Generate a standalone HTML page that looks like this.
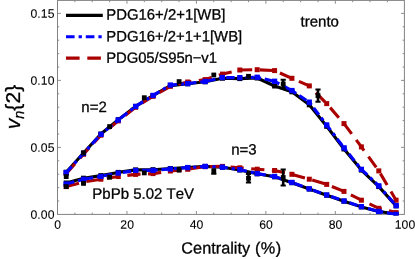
<!DOCTYPE html>
<html><head><meta charset="utf-8"><title>chart</title>
<style>
html,body{margin:0;padding:0;background:#fff;}
body{width:415px;height:259px;position:relative;overflow:hidden;font-family:"Liberation Sans",sans-serif;color:#000;}
.t{position:absolute;white-space:nowrap;font-kerning:none;-webkit-text-stroke:0.3px #000;}
</style></head><body>
<svg width="415" height="259" viewBox="0 0 415 259" style="position:absolute;left:0;top:0">
<rect x="57.50" y="0.40" width="346.90" height="214.00" fill="none" stroke="#828282" stroke-width="1.0"/>
<path d="M74.86 214.40 v-1.8 M74.86 0.40 v1.8 M92.23 214.40 v-1.8 M92.23 0.40 v1.8 M109.59 214.40 v-1.8 M109.59 0.40 v1.8 M126.96 214.40 v-3.4 M126.96 0.40 v3.4 M144.32 214.40 v-1.8 M144.32 0.40 v1.8 M161.69 214.40 v-1.8 M161.69 0.40 v1.8 M179.06 214.40 v-1.8 M179.06 0.40 v1.8 M196.42 214.40 v-3.4 M196.42 0.40 v3.4 M213.78 214.40 v-1.8 M213.78 0.40 v1.8 M231.15 214.40 v-1.8 M231.15 0.40 v1.8 M248.51 214.40 v-1.8 M248.51 0.40 v1.8 M265.88 214.40 v-3.4 M265.88 0.40 v3.4 M283.25 214.40 v-1.8 M283.25 0.40 v1.8 M300.61 214.40 v-1.8 M300.61 0.40 v1.8 M317.97 214.40 v-1.8 M317.97 0.40 v1.8 M335.34 214.40 v-3.4 M335.34 0.40 v3.4 M352.70 214.40 v-1.8 M352.70 0.40 v1.8 M370.07 214.40 v-1.8 M370.07 0.40 v1.8 M387.44 214.40 v-1.8 M387.44 0.40 v1.8 M57.50 201.00 h1.8 M404.40 201.00 h-1.8 M57.50 187.60 h1.8 M404.40 187.60 h-1.8 M57.50 174.20 h1.8 M404.40 174.20 h-1.8 M57.50 160.80 h1.8 M404.40 160.80 h-1.8 M57.50 147.40 h3.4 M404.40 147.40 h-3.4 M57.50 134.00 h1.8 M404.40 134.00 h-1.8 M57.50 120.60 h1.8 M404.40 120.60 h-1.8 M57.50 107.20 h1.8 M404.40 107.20 h-1.8 M57.50 93.80 h1.8 M404.40 93.80 h-1.8 M57.50 80.40 h3.4 M404.40 80.40 h-3.4 M57.50 67.00 h1.8 M404.40 67.00 h-1.8 M57.50 53.60 h1.8 M404.40 53.60 h-1.8 M57.50 40.20 h1.8 M404.40 40.20 h-1.8 M57.50 26.80 h1.8 M404.40 26.80 h-1.8 M57.50 13.40 h3.4 M404.40 13.40 h-3.4 " stroke="#828282" stroke-width="0.9" fill="none"/>
<clipPath id="c"><rect x="50" y="0" width="360" height="215.4"/></clipPath><g clip-path="url(#c)">
<path d="M66.2 172.2 L83.5 153.0 L100.9 134.0 L118.3 119.8 L135.6 106.4 L153.0 95.6 L170.4 85.6 L187.7 83.8 L205.1 81.8 L222.5 78.2 L239.8 78.6 L257.2 78.0 L274.6 86.0 L291.9 91.8 L309.3 104.8 L326.7 126.3 L344.0 149.0 L361.4 170.1 L378.8 186.6 L396.1 205.9" stroke="#000" stroke-width="3.1" fill="none" stroke-linejoin="round"/>
<rect x="63.7" y="169.7" width="5.0" height="5.0" fill="#000"/><rect x="81.0" y="150.5" width="5.0" height="5.0" fill="#000"/><rect x="98.4" y="131.5" width="5.0" height="5.0" fill="#000"/><rect x="115.8" y="117.3" width="5.0" height="5.0" fill="#000"/><rect x="133.1" y="103.9" width="5.0" height="5.0" fill="#000"/><rect x="150.5" y="93.1" width="5.0" height="5.0" fill="#000"/><rect x="167.9" y="83.1" width="5.0" height="5.0" fill="#000"/><rect x="185.2" y="81.3" width="5.0" height="5.0" fill="#000"/><rect x="202.6" y="79.3" width="5.0" height="5.0" fill="#000"/><rect x="220.0" y="75.7" width="5.0" height="5.0" fill="#000"/><rect x="237.3" y="76.1" width="5.0" height="5.0" fill="#000"/><rect x="254.7" y="75.5" width="5.0" height="5.0" fill="#000"/><rect x="272.1" y="83.5" width="5.0" height="5.0" fill="#000"/><rect x="289.4" y="89.3" width="5.0" height="5.0" fill="#000"/><rect x="306.8" y="102.3" width="5.0" height="5.0" fill="#000"/><rect x="324.2" y="123.8" width="5.0" height="5.0" fill="#000"/><rect x="341.5" y="146.5" width="5.0" height="5.0" fill="#000"/><rect x="358.9" y="167.6" width="5.0" height="5.0" fill="#000"/><rect x="376.3" y="184.1" width="5.0" height="5.0" fill="#000"/><rect x="393.6" y="203.4" width="5.0" height="5.0" fill="#000"/>
<path d="M66.2 183.0 L83.5 178.2 L100.9 175.6 L118.3 172.4 L135.6 169.9 L153.0 169.7 L170.4 168.5 L187.7 167.5 L205.1 166.4 L222.5 167.3 L239.8 170.0 L257.2 173.8 L274.6 176.8 L291.9 182.7 L309.3 189.0 L326.7 195.2 L344.0 201.2 L361.4 206.9 L378.8 211.5 L396.1 214.0" stroke="#000" stroke-width="3.1" fill="none" stroke-linejoin="round"/>
<rect x="63.7" y="180.5" width="5.0" height="5.0" fill="#000"/><rect x="81.0" y="175.7" width="5.0" height="5.0" fill="#000"/><rect x="98.4" y="173.1" width="5.0" height="5.0" fill="#000"/><rect x="115.8" y="169.9" width="5.0" height="5.0" fill="#000"/><rect x="133.1" y="167.4" width="5.0" height="5.0" fill="#000"/><rect x="150.5" y="167.2" width="5.0" height="5.0" fill="#000"/><rect x="167.9" y="166.0" width="5.0" height="5.0" fill="#000"/><rect x="185.2" y="165.0" width="5.0" height="5.0" fill="#000"/><rect x="202.6" y="163.9" width="5.0" height="5.0" fill="#000"/><rect x="220.0" y="164.8" width="5.0" height="5.0" fill="#000"/><rect x="237.3" y="167.5" width="5.0" height="5.0" fill="#000"/><rect x="254.7" y="171.3" width="5.0" height="5.0" fill="#000"/><rect x="272.1" y="174.3" width="5.0" height="5.0" fill="#000"/><rect x="289.4" y="180.2" width="5.0" height="5.0" fill="#000"/><rect x="306.8" y="186.5" width="5.0" height="5.0" fill="#000"/><rect x="324.2" y="192.7" width="5.0" height="5.0" fill="#000"/><rect x="341.5" y="198.7" width="5.0" height="5.0" fill="#000"/><rect x="358.9" y="204.4" width="5.0" height="5.0" fill="#000"/><rect x="376.3" y="209.0" width="5.0" height="5.0" fill="#000"/><rect x="393.6" y="211.5" width="5.0" height="5.0" fill="#000"/>
<path d="M66.2 173.6 L83.5 154.3 L100.9 135.2 L118.3 120.9 L135.6 107.3 L153.0 96.3 L170.4 86.3 L187.7 82.0 L205.1 79.6 L222.5 74.1 L239.8 70.0 L257.2 69.7 L274.6 70.6 L291.9 78.3 L309.3 85.9 L326.7 103.6 L344.0 123.6 L361.4 146.9 L378.8 170.9 L396.1 200.2" stroke="#aa0000" stroke-width="3.1" fill="none" stroke-dasharray="13.25 7.5" stroke-linejoin="round"/>
<rect x="63.7" y="171.1" width="5.0" height="5.0" fill="#aa0000"/><rect x="81.0" y="151.8" width="5.0" height="5.0" fill="#aa0000"/><rect x="98.4" y="132.7" width="5.0" height="5.0" fill="#aa0000"/><rect x="115.8" y="118.4" width="5.0" height="5.0" fill="#aa0000"/><rect x="133.1" y="104.8" width="5.0" height="5.0" fill="#aa0000"/><rect x="150.5" y="93.8" width="5.0" height="5.0" fill="#aa0000"/><rect x="167.9" y="83.8" width="5.0" height="5.0" fill="#aa0000"/><rect x="185.2" y="79.5" width="5.0" height="5.0" fill="#aa0000"/><rect x="202.6" y="77.1" width="5.0" height="5.0" fill="#aa0000"/><rect x="220.0" y="71.6" width="5.0" height="5.0" fill="#aa0000"/><rect x="237.3" y="67.5" width="5.0" height="5.0" fill="#aa0000"/><rect x="254.7" y="67.2" width="5.0" height="5.0" fill="#aa0000"/><rect x="272.1" y="68.1" width="5.0" height="5.0" fill="#aa0000"/><rect x="289.4" y="75.8" width="5.0" height="5.0" fill="#aa0000"/><rect x="306.8" y="83.4" width="5.0" height="5.0" fill="#aa0000"/><rect x="324.2" y="101.1" width="5.0" height="5.0" fill="#aa0000"/><rect x="341.5" y="121.1" width="5.0" height="5.0" fill="#aa0000"/><rect x="358.9" y="144.4" width="5.0" height="5.0" fill="#aa0000"/><rect x="376.3" y="168.4" width="5.0" height="5.0" fill="#aa0000"/><rect x="393.6" y="197.7" width="5.0" height="5.0" fill="#aa0000"/>
<path d="M66.2 186.6 L83.5 182.0 L100.9 179.2 L118.3 176.5 L135.6 174.4 L153.0 173.6 L170.4 171.0 L187.7 169.3 L205.1 166.6 L222.5 166.4 L239.8 167.8 L257.2 169.2 L274.6 170.5 L291.9 174.3 L309.3 179.2 L326.7 184.4 L344.0 191.4 L361.4 200.2 L378.8 208.3 L396.1 212.6" stroke="#aa0000" stroke-width="3.1" fill="none" stroke-dasharray="13.25 7.5" stroke-linejoin="round"/>
<rect x="63.7" y="184.1" width="5.0" height="5.0" fill="#aa0000"/><rect x="81.0" y="179.5" width="5.0" height="5.0" fill="#aa0000"/><rect x="98.4" y="176.7" width="5.0" height="5.0" fill="#aa0000"/><rect x="115.8" y="174.0" width="5.0" height="5.0" fill="#aa0000"/><rect x="133.1" y="171.9" width="5.0" height="5.0" fill="#aa0000"/><rect x="150.5" y="171.1" width="5.0" height="5.0" fill="#aa0000"/><rect x="167.9" y="168.5" width="5.0" height="5.0" fill="#aa0000"/><rect x="185.2" y="166.8" width="5.0" height="5.0" fill="#aa0000"/><rect x="202.6" y="164.1" width="5.0" height="5.0" fill="#aa0000"/><rect x="220.0" y="163.9" width="5.0" height="5.0" fill="#aa0000"/><rect x="237.3" y="165.3" width="5.0" height="5.0" fill="#aa0000"/><rect x="254.7" y="166.7" width="5.0" height="5.0" fill="#aa0000"/><rect x="272.1" y="168.0" width="5.0" height="5.0" fill="#aa0000"/><rect x="289.4" y="171.8" width="5.0" height="5.0" fill="#aa0000"/><rect x="306.8" y="176.7" width="5.0" height="5.0" fill="#aa0000"/><rect x="324.2" y="181.9" width="5.0" height="5.0" fill="#aa0000"/><rect x="341.5" y="188.9" width="5.0" height="5.0" fill="#aa0000"/><rect x="358.9" y="197.7" width="5.0" height="5.0" fill="#aa0000"/><rect x="376.3" y="205.8" width="5.0" height="5.0" fill="#aa0000"/><rect x="393.6" y="210.1" width="5.0" height="5.0" fill="#aa0000"/>
<path d="M66.2 172.7 L83.5 153.4 L100.9 134.3 L118.3 120.0 L135.6 106.4 L153.0 95.4 L170.4 85.1 L187.7 83.6 L205.1 81.5 L222.5 77.6 L239.8 77.7 L257.2 77.3 L274.6 81.3 L291.9 90.6 L309.3 102.2 L326.7 125.0 L344.0 147.9 L361.4 169.3 L378.8 185.9 L396.1 205.6" stroke="#0000ff" stroke-width="3.1" fill="none" stroke-dasharray="8.4 3.9 3.25 3.8" stroke-linejoin="round"/>
<rect x="63.5" y="170.0" width="5.3" height="5.3" fill="#0000ff"/><rect x="80.9" y="150.8" width="5.3" height="5.3" fill="#0000ff"/><rect x="98.3" y="131.7" width="5.3" height="5.3" fill="#0000ff"/><rect x="115.6" y="117.3" width="5.3" height="5.3" fill="#0000ff"/><rect x="133.0" y="103.8" width="5.3" height="5.3" fill="#0000ff"/><rect x="150.4" y="92.8" width="5.3" height="5.3" fill="#0000ff"/><rect x="167.7" y="82.4" width="5.3" height="5.3" fill="#0000ff"/><rect x="185.1" y="80.9" width="5.3" height="5.3" fill="#0000ff"/><rect x="202.5" y="78.8" width="5.3" height="5.3" fill="#0000ff"/><rect x="219.8" y="74.9" width="5.3" height="5.3" fill="#0000ff"/><rect x="237.2" y="75.0" width="5.3" height="5.3" fill="#0000ff"/><rect x="254.5" y="74.6" width="5.3" height="5.3" fill="#0000ff"/><rect x="271.9" y="78.6" width="5.3" height="5.3" fill="#0000ff"/><rect x="289.3" y="87.9" width="5.3" height="5.3" fill="#0000ff"/><rect x="306.6" y="99.5" width="5.3" height="5.3" fill="#0000ff"/><rect x="324.0" y="122.3" width="5.3" height="5.3" fill="#0000ff"/><rect x="341.4" y="145.2" width="5.3" height="5.3" fill="#0000ff"/><rect x="358.7" y="166.7" width="5.3" height="5.3" fill="#0000ff"/><rect x="376.1" y="183.2" width="5.3" height="5.3" fill="#0000ff"/><rect x="393.5" y="202.9" width="5.3" height="5.3" fill="#0000ff"/>
<path d="M66.2 184.1 L83.5 179.3 L100.9 176.4 L118.3 173.1 L135.6 170.5 L153.0 170.3 L170.4 169.0 L187.7 167.6 L205.1 166.4 L222.5 167.2 L239.8 169.7 L257.2 173.6 L274.6 176.5 L291.9 182.4 L309.3 188.8 L326.7 195.0 L344.0 201.0 L361.4 206.7 L378.8 211.4 L396.1 214.4" stroke="#0000ff" stroke-width="3.1" fill="none" stroke-dasharray="8.4 3.9 3.25 3.8" stroke-linejoin="round"/>
<rect x="63.5" y="181.4" width="5.3" height="5.3" fill="#0000ff"/><rect x="80.9" y="176.7" width="5.3" height="5.3" fill="#0000ff"/><rect x="98.3" y="173.8" width="5.3" height="5.3" fill="#0000ff"/><rect x="115.6" y="170.4" width="5.3" height="5.3" fill="#0000ff"/><rect x="133.0" y="167.8" width="5.3" height="5.3" fill="#0000ff"/><rect x="150.4" y="167.7" width="5.3" height="5.3" fill="#0000ff"/><rect x="167.7" y="166.3" width="5.3" height="5.3" fill="#0000ff"/><rect x="185.1" y="164.9" width="5.3" height="5.3" fill="#0000ff"/><rect x="202.5" y="163.8" width="5.3" height="5.3" fill="#0000ff"/><rect x="219.8" y="164.5" width="5.3" height="5.3" fill="#0000ff"/><rect x="237.2" y="167.0" width="5.3" height="5.3" fill="#0000ff"/><rect x="254.5" y="170.9" width="5.3" height="5.3" fill="#0000ff"/><rect x="271.9" y="173.8" width="5.3" height="5.3" fill="#0000ff"/><rect x="289.3" y="179.8" width="5.3" height="5.3" fill="#0000ff"/><rect x="306.6" y="186.2" width="5.3" height="5.3" fill="#0000ff"/><rect x="324.0" y="192.3" width="5.3" height="5.3" fill="#0000ff"/><rect x="341.4" y="198.3" width="5.3" height="5.3" fill="#0000ff"/><rect x="358.7" y="204.0" width="5.3" height="5.3" fill="#0000ff"/><rect x="376.1" y="208.8" width="5.3" height="5.3" fill="#0000ff"/><rect x="393.5" y="211.8" width="5.3" height="5.3" fill="#0000ff"/>
<rect x="63.8" y="174.2" width="4.8" height="4.8" fill="#000"/><rect x="81.1" y="150.6" width="4.8" height="4.8" fill="#000"/><rect x="107.2" y="124.2" width="4.8" height="4.8" fill="#000"/><rect x="141.9" y="95.3" width="4.8" height="4.8" fill="#000"/><rect x="176.7" y="79.2" width="4.8" height="4.8" fill="#000"/><rect x="211.4" y="72.6" width="4.8" height="4.8" fill="#000"/><rect x="246.1" y="73.9" width="4.8" height="4.8" fill="#000"/><rect x="280.8" y="81.6" width="4.8" height="4.8" fill="#000"/><rect x="315.6" y="93.2" width="4.8" height="4.8" fill="#000"/>
<rect x="63.8" y="184.2" width="4.8" height="4.8" fill="#000"/><rect x="81.1" y="181.0" width="4.8" height="4.8" fill="#000"/><rect x="107.2" y="174.8" width="4.8" height="4.8" fill="#000"/><rect x="141.9" y="170.5" width="4.8" height="4.8" fill="#000"/><rect x="176.7" y="167.8" width="4.8" height="4.8" fill="#000"/><rect x="211.4" y="168.3" width="4.8" height="4.8" fill="#000"/><rect x="246.1" y="175.9" width="4.8" height="4.8" fill="#000"/><rect x="280.8" y="175.1" width="4.8" height="4.8" fill="#000"/>
<path d="M283.2 79.8 V88.2" stroke="#000" stroke-width="2.6" fill="none"/><path d="M280.6 79.8 h5.2" stroke="#000" stroke-width="2.0" fill="none"/><path d="M280.6 88.2 h5.2" stroke="#000" stroke-width="2.0" fill="none"/><path d="M318.0 89.5 V101.7" stroke="#000" stroke-width="2.6" fill="none"/><path d="M315.4 89.5 h5.2" stroke="#000" stroke-width="2.0" fill="none"/><path d="M315.4 101.7 h5.2" stroke="#000" stroke-width="2.0" fill="none"/>
<path d="M213.8 170.7 V173.8" stroke="#000" stroke-width="2.6" fill="none"/><path d="M211.2 173.8 h5.2" stroke="#000" stroke-width="2.0" fill="none"/><path d="M248.5 174.0 V182.6" stroke="#000" stroke-width="2.6" fill="none"/><path d="M245.9 174.0 h5.2" stroke="#000" stroke-width="2.0" fill="none"/><path d="M245.9 182.6 h5.2" stroke="#000" stroke-width="2.0" fill="none"/><path d="M283.2 169.5 V185.5" stroke="#000" stroke-width="2.6" fill="none"/><path d="M280.6 169.5 h5.2" stroke="#000" stroke-width="2.0" fill="none"/><path d="M280.6 185.5 h5.2" stroke="#000" stroke-width="2.0" fill="none"/>
</g>
<path d="M66 15.4 H102.8" stroke="#000" stroke-width="3.1"/>
<path d="M66 36.8 H102.8" stroke="#0000ff" stroke-width="3.1" stroke-dasharray="8.6 4.0 3.3 3.9"/>
<path d="M66 58.1 H102.8" stroke="#aa0000" stroke-width="3.1" stroke-dasharray="13.6 7.7"/>
</svg>
<div style="position:absolute;left:0;top:0;width:415px;height:259px;will-change:transform;opacity:0.999">
<div class="t" style="left:0;top:0;transform-origin:0 0;transform:translate(106.30px,7.45px) rotate(0.03deg);font-size:14.90px;line-height:14.90px;">PDG16+/2+1[WB]</div>
<div class="t" style="left:0;top:0;transform-origin:0 0;transform:translate(106.30px,29.17px) rotate(0.03deg);font-size:14.87px;line-height:14.87px;">PDG16+/2+1+1[WB]</div>
<div class="t" style="left:0;top:0;transform-origin:0 0;transform:translate(106.30px,50.78px) rotate(0.03deg);font-size:14.85px;line-height:14.85px;letter-spacing:-0.1px">PDG05/S95n&#8722;v1</div>
<div class="t" style="left:0;top:0;transform-origin:0 0;transform:translate(300.60px,13.40px) rotate(0.03deg);font-size:15.00px;line-height:15.00px;">trento</div>
<div class="t" style="left:0;top:0;transform-origin:0 0;transform:translate(81.30px,98.90px) rotate(0.03deg);font-size:15.00px;line-height:15.00px;">n=2</div>
<div class="t" style="left:0;top:0;transform-origin:0 0;transform:translate(231.20px,141.50px) rotate(0.03deg);font-size:15.00px;line-height:15.00px;">n=3</div>
<div class="t" style="left:0;top:0;transform-origin:0 0;transform:translate(92.30px,185.70px) rotate(0.03deg);font-size:15.00px;line-height:15.00px;">PbPb 5.02 TeV</div>
<div class="t" style="left:0;top:0;transform-origin:0 0;transform:translate(131.50px,239.45px) rotate(0.03deg);font-size:16.30px;line-height:16.30px;width:200px;text-align:center;word-spacing:0.3px">Centrality <span style="letter-spacing:0.45px">(%)</span></div>
<div class="t" style="left:0;top:0;transform-origin:0 0;transform:translate(-42.30px,218.60px) rotate(0.03deg);font-size:12.20px;line-height:12.20px;width:200px;text-align:center;-webkit-text-stroke:0.1px #000">0</div>
<div class="t" style="left:0;top:0;transform-origin:0 0;transform:translate(27.16px,218.60px) rotate(0.03deg);font-size:12.20px;line-height:12.20px;width:200px;text-align:center;-webkit-text-stroke:0.1px #000">20</div>
<div class="t" style="left:0;top:0;transform-origin:0 0;transform:translate(96.62px,218.60px) rotate(0.03deg);font-size:12.20px;line-height:12.20px;width:200px;text-align:center;-webkit-text-stroke:0.1px #000">40</div>
<div class="t" style="left:0;top:0;transform-origin:0 0;transform:translate(166.08px,218.60px) rotate(0.03deg);font-size:12.20px;line-height:12.20px;width:200px;text-align:center;-webkit-text-stroke:0.1px #000">60</div>
<div class="t" style="left:0;top:0;transform-origin:0 0;transform:translate(235.54px,218.60px) rotate(0.03deg);font-size:12.20px;line-height:12.20px;width:200px;text-align:center;-webkit-text-stroke:0.1px #000">80</div>
<div class="t" style="left:0;top:0;transform-origin:0 0;transform:translate(305.00px,218.60px) rotate(0.03deg);font-size:12.20px;line-height:12.20px;width:200px;text-align:center;-webkit-text-stroke:0.1px #000">100</div>
<div class="t" style="left:0;top:0;transform-origin:0 0;transform:translate(-45.40px,208.80px) rotate(0.03deg);font-size:12.20px;line-height:12.20px;width:100px;text-align:right;letter-spacing:0.1px;-webkit-text-stroke:0.1px #000">0.00</div>
<div class="t" style="left:0;top:0;transform-origin:0 0;transform:translate(-45.40px,141.80px) rotate(0.03deg);font-size:12.20px;line-height:12.20px;width:100px;text-align:right;letter-spacing:0.1px;-webkit-text-stroke:0.1px #000">0.05</div>
<div class="t" style="left:0;top:0;transform-origin:0 0;transform:translate(-45.40px,74.80px) rotate(0.03deg);font-size:12.20px;line-height:12.20px;width:100px;text-align:right;letter-spacing:0.1px;-webkit-text-stroke:0.1px #000">0.10</div>
<div class="t" style="left:0;top:0;transform-origin:0 0;transform:translate(-45.40px,7.80px) rotate(0.03deg);font-size:12.20px;line-height:12.20px;width:100px;text-align:right;letter-spacing:0.1px;-webkit-text-stroke:0.1px #000">0.15</div>
<div class="t" style="left:0;top:0;transform-origin:0 0;transform:translate(2.3px,129.2px) rotate(-90deg);font-size:21.1px;line-height:21.1px;white-space:nowrap"><span style="font-style:italic">v</span><span style="font-style:italic;font-size:14.4px;position:relative;top:3.6px">n</span>{2}</div>
</div>
</body></html>
